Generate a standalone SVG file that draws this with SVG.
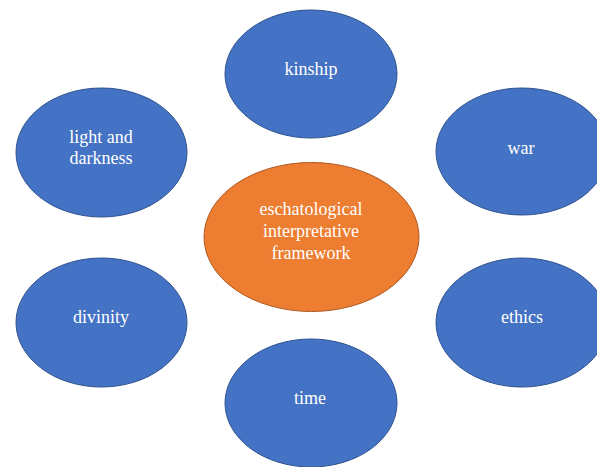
<svg xmlns="http://www.w3.org/2000/svg" width="597" height="467" viewBox="0 0 597 467">
  <style>
    .blue { fill: #4472C4; stroke: #2F528F; stroke-width: 1; }
    .orange { fill: #ED7D31; stroke: #AE5A21; stroke-width: 1; }
    .label { font-family: "Liberation Serif", "Times New Roman", serif; font-size: 18px; fill: #FFFFFF; text-anchor: middle; }
  </style>
  <rect width="597" height="467" fill="#FFFFFF"/>
  <!-- no connectors are drawn between the nodes -->
  <g id="connectors"/>
  <g id="node-kinship">
    <ellipse class="blue" cx="311" cy="74" rx="86" ry="64"/>
    <text class="label" x="311" y="75">kinship</text>
  </g>
  <g id="node-light-and-darkness">
    <ellipse class="blue" cx="101.5" cy="152.5" rx="85.5" ry="64.5"/>
    <text class="label" x="101" y="143">light and</text>
    <text class="label" x="101" y="164">darkness</text>
  </g>
  <g id="node-war">
    <ellipse class="blue" cx="522" cy="151.5" rx="86" ry="63.5"/>
    <text class="label" x="521" y="154">war</text>
  </g>
  <g id="node-center">
    <ellipse class="orange" cx="311.5" cy="237" rx="107.5" ry="74.5"/>
    <text class="label" x="311" y="215">eschatological</text>
    <text class="label" x="311" y="237">interpretative</text>
    <text class="label" x="311" y="259">framework</text>
  </g>
  <g id="node-divinity">
    <ellipse class="blue" cx="101.5" cy="322.5" rx="85.5" ry="64.5"/>
    <text class="label" x="101" y="323">divinity</text>
  </g>
  <g id="node-ethics">
    <ellipse class="blue" cx="522" cy="322.5" rx="86" ry="64.5"/>
    <text class="label" x="522" y="323">ethics</text>
  </g>
  <g id="node-time">
    <ellipse class="blue" cx="311" cy="403" rx="86" ry="64"/>
    <text class="label" x="310" y="404">time</text>
  </g>
</svg>
